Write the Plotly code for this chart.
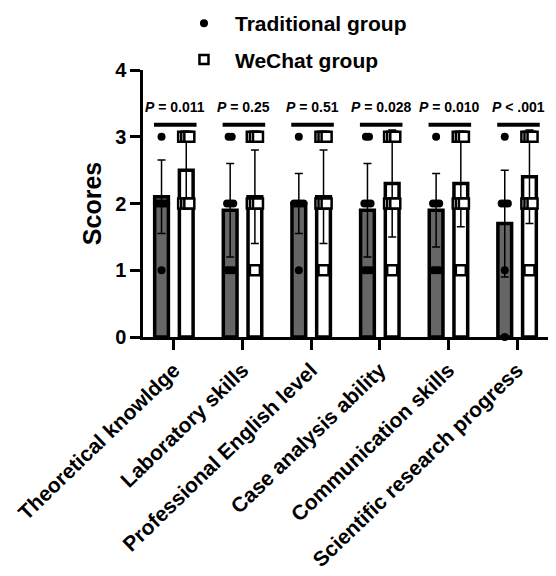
import plotly.graph_objects as go

categories = ["Theoretical knowldge", "Laboratory skills", "Professional English level",
              "Case analysis ability", "Communication skills", "Scientific research progress"]
trad_mean = [2.1, 1.9, 2.0, 1.9, 1.9, 1.7]
trad_sd = [0.55, 0.7, 0.45, 0.7, 0.55, 0.8]
wechat_mean = [2.5, 2.1, 2.1, 2.3, 2.3, 2.4]
wechat_sd = [0.5, 0.7, 0.7, 0.8, 0.65, 0.7]
p_labels = ["<i>P</i> = 0.011", "<i>P</i> = 0.25", "<i>P</i> = 0.51",
            "<i>P</i> = 0.028", "<i>P</i> = 0.010", "<i>P</i> < .001"]
# individual scores (representative points at each level)
trad_points = [
    [3, 2, 2, 2, 2, 1],
    [3, 3, 2, 2, 2, 1, 1, 1],
    [3, 2, 2, 2, 2, 1],
    [3, 3, 2, 2, 2, 1, 1, 1],
    [3, 2, 2, 2, 1, 1, 1],
    [3, 2, 2, 2, 1, 0],
]
wechat_points = [
    [3, 3, 3, 2, 2, 2],
    [3, 3, 3, 2, 2, 2, 1],
    [3, 3, 3, 2, 2, 2, 1],
    [3, 3, 3, 2, 2, 2, 1],
    [3, 3, 3, 2, 2, 2, 1],
    [3, 3, 3, 2, 2, 2, 1],
]

FONT = "Liberation Sans, Arial, sans-serif"
DARK = "#666666"
TRAD_OFF = -0.18
WC_OFF = 0.18
BAR_W = 0.2

idx = list(range(len(categories)))

def spread(points, center_shift):
    xs, ys = [], []
    for i, pts in enumerate(points):
        levels = {}
        for v in pts:
            levels[v] = levels.get(v, 0) + 1
        for v, n in levels.items():
            for k in range(n):
                xs.append(i + center_shift + (k - (n - 1) / 2) * 0.045)
                ys.append(v)
    return xs, ys

fig = go.Figure()
fig.add_trace(go.Bar(x=idx, y=trad_mean, width=BAR_W, offset=TRAD_OFF - BAR_W / 2,
                     marker=dict(color=DARK, line=dict(color="black", width=3.5)),
                     error_y=dict(type="data", array=trad_sd, color="black", thickness=1.5, width=4),
                     showlegend=False))
fig.add_trace(go.Bar(x=idx, y=wechat_mean, width=BAR_W, offset=WC_OFF - BAR_W / 2,
                     marker=dict(color="white", line=dict(color="black", width=3.5)),
                     error_y=dict(type="data", array=wechat_sd, color="black", thickness=1.5, width=4),
                     showlegend=False))

tx, ty = spread(trad_points, TRAD_OFF)
wx, wy = spread(wechat_points, WC_OFF)
fig.add_trace(go.Scatter(x=tx, y=ty, mode="markers", showlegend=False, cliponaxis=False,
                         marker=dict(symbol="circle", size=8, color="black")))
fig.add_trace(go.Scatter(x=wx, y=wy, mode="markers", showlegend=False, cliponaxis=False,
                         marker=dict(symbol="square", size=10, color="white",
                                     line=dict(color="black", width=2.5))))

# legend entries
fig.add_trace(go.Scatter(x=[None], y=[None], mode="markers", name="Traditional group",
                         legendgroup="a", marker=dict(symbol="circle", size=8, color="black")))
fig.add_trace(go.Scatter(x=[None], y=[None], mode="markers", name="WeChat group",
                         legendgroup="b", marker=dict(symbol="square", size=9, color="white",
                                                      line=dict(color="black", width=2.5))))

for i, lab in enumerate(p_labels):
    fig.add_annotation(x=i + 0.02, y=3.45, text=lab, showarrow=False,
                       font=dict(family=FONT, size=14, color="black", weight="bold"))
    fig.add_shape(type="line", x0=i - 0.29, x1=i + 0.33, y0=3.18, y1=3.18,
                  line=dict(color="black", width=4))

fig.update_layout(
    width=548, height=568,
    margin=dict(l=135, r=8, t=62, b=239, autoexpand=False),
    paper_bgcolor="white", plot_bgcolor="white",
    barmode="overlay",
    font=dict(family=FONT, color="black", weight="bold"),
    legend=dict(x=0.074, y=1.251, xanchor="left", yanchor="top", itemwidth=52,
                font=dict(family=FONT, size=21, color="black", weight="bold"),
                traceorder="grouped", tracegroupgap=6, bgcolor="rgba(0,0,0,0)"),
    xaxis=dict(range=[-0.45, 5.45], tickmode="array", tickvals=idx, ticktext=categories,
               tickangle=-44, ticks="outside", ticklen=10, tickwidth=2.5, tickcolor="black",
               showline=True, linecolor="black", linewidth=2.5, showgrid=False, zeroline=False,
               automargin=False,
               tickfont=dict(family=FONT, size=21, color="black", weight="bold")),
    yaxis=dict(range=[0, 4], tickvals=[0, 1, 2, 3, 4], ticks="outside", ticklen=10,
               tickwidth=2.5, tickcolor="black", showline=True, linecolor="black",
               linewidth=2.5, showgrid=False, zeroline=False, automargin=False,
               tickfont=dict(family=FONT, size=20, color="black", weight="bold"),
               title=dict(text="Scores", font=dict(family=FONT, size=25, color="black", weight="bold"),
                          standoff=7)),
)

fig.write_html("out.html")
